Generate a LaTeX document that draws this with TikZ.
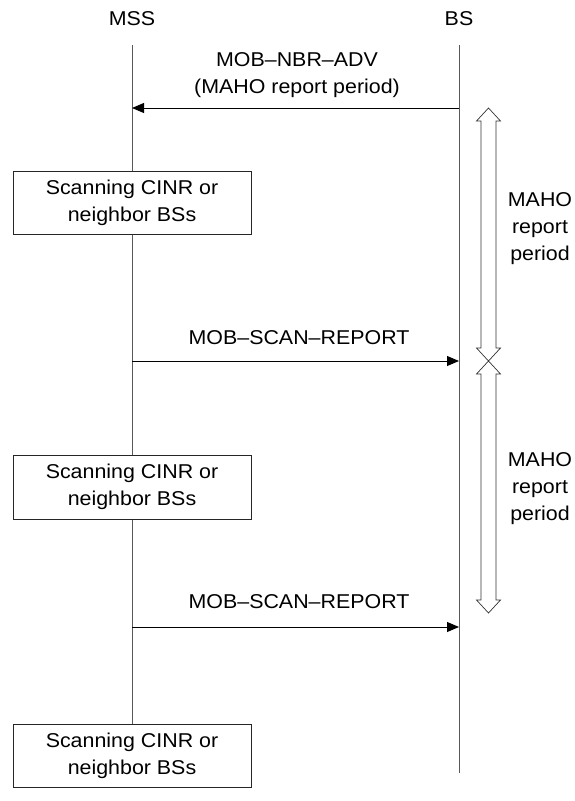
\documentclass[tikz,border=0pt]{standalone}
\usepackage{fontspec}
\setmainfont[FakeStretch=1.07]{Liberation Sans}
\usetikzlibrary{arrows.meta}
\begin{document}
\begin{tikzpicture}[x=1pt,y=-1pt,
  every node/.style={font=\fontsize{20}{27}\selectfont, inner sep=0pt},
  lifeline/.style={draw=black!65, line width=0.9pt},
  msg/.style={draw=black, line width=0.9pt, -{Triangle[length=12pt,width=10pt]}},
  scanbox/.style={draw=black!85, line width=0.9pt, fill=white, minimum width=238pt, minimum height=63pt, align=center},
  period/.style={draw=black!80, line width=0.7pt},
  lbl/.style={align=center}]
\useasboundingbox (0,0) rectangle (574,801);
% entity labels
\node (mss) at (132,19) {MSS};
\node (bs) at (459,19) {BS};
% lifeline ends
\coordinate (mssT) at (132,45);
\coordinate (mssB) at (132,773);
\coordinate (bsT) at (459,45);
\coordinate (bsB) at (459,773);
\draw[lifeline] (mssT) -- (mssB);
\draw[lifeline] (bsT) -- (bsB);
% message 1
\coordinate (m1s) at (459,108);
\coordinate (m1e) at (132,108);
\draw[msg] (m1s) -- (m1e);
\node[lbl] (m1l) at (297,75) {MOB‒NBR‒ADV\\(MAHO report period)};
% boxes
\node[scanbox] (box1) at (132,202.5) {Scanning CINR or\\neighbor BSs};
\node[scanbox, minimum height=64pt] (box2) at (132,487) {Scanning CINR or\\neighbor BSs};
\node[scanbox] (box3) at (132,755.5) {Scanning CINR or\\neighbor BSs};
% message 2
\coordinate (m2s) at (132,361);
\coordinate (m2e) at (459,361);
\draw[msg] (m2s) -- (m2e);
\node (m2l) at (299,338) {MOB‒SCAN‒REPORT};
% message 3
\coordinate (m3s) at (132,627);
\coordinate (m3e) at (459,627);
\draw[msg] (m3s) -- (m3e);
\node (m3l) at (299,602) {MOB‒SCAN‒REPORT};
% MAHO report period double arrows
\draw[period] (488.5,108) -- (500.5,121) -- (496,121) -- (496,348) -- (500.5,348) -- (488.5,361)
  -- (476.5,348) -- (481,348) -- (481,121) -- (476.5,121) -- cycle;
\draw[period] (488.5,361) -- (500.5,374) -- (496,374) -- (496,600) -- (500.5,600) -- (488.5,613)
  -- (476.5,600) -- (481,600) -- (481,374) -- (476.5,374) -- cycle;
\node[lbl] (p1) at (540,229) {MAHO\\report\\period};
\node[lbl] (p2) at (540,489) {MAHO\\report\\period};
\end{tikzpicture}
\end{document}
